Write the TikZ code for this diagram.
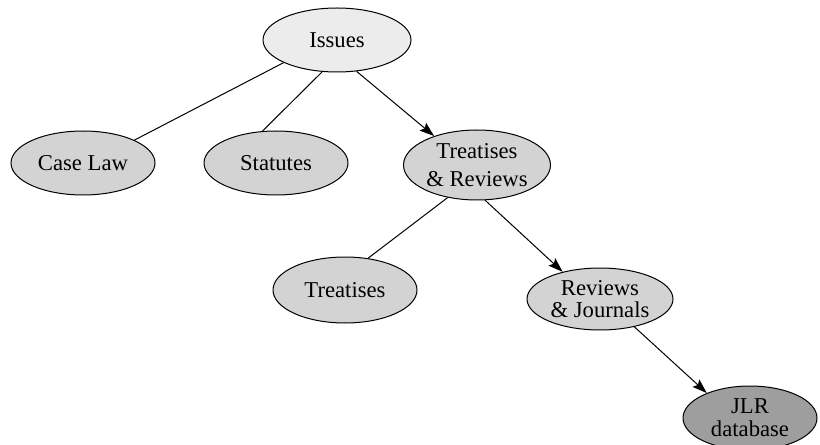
\documentclass[tikz,border=0pt]{standalone}
\usepackage{fontspec}
\setmainfont{Liberation Serif}
\usepackage{xcolor}
\usepackage{tikz}
\usetikzlibrary{shapes.geometric, arrows.meta}
\definecolor{toplevel}{RGB}{236, 236, 236}
\definecolor{midlevel}{RGB}{211, 211, 211}
\definecolor{dblevel}{RGB}{158, 158, 158}

\begin{document}
\begin{tikzpicture}[
    x=0.75pt, y=-0.75pt,
    topic/.style={ellipse, draw, line width=0.75pt, fill=midlevel, inner sep=0pt, align=center, font=\fontsize{17}{17}\selectfont, text=black},
    link/.style={line width=0.75pt},
    arrow/.style={line width=0.75pt, -{Stealth[length=11pt, width=7.5pt, inset=2pt]}}
]
\useasboundingbox (0,0) rectangle (820,445);
\node[topic, fill=toplevel, minimum width=148*0.75pt, minimum height=64*0.75pt] (issues) at (337,40) {Issues};
\node[topic, minimum width=144*0.75pt, minimum height=64*0.75pt] (caselaw) at (83,163) {Case Law};
\node[topic, minimum width=144*0.75pt, minimum height=64*0.75pt] (statutes) at (276,163) {Statutes};
\node[topic, minimum width=147*0.75pt, minimum height=70*0.75pt] (treatrev) at (477,165) {Treatises\\[4pt]\& Reviews};
\node[topic, minimum width=144*0.75pt, minimum height=66*0.75pt] (treatises) at (345,290) {Treatises};
\node[topic, minimum width=146*0.75pt, minimum height=62*0.75pt] (revjour) at (600,299) {Reviews\\\& Journals};
\node[topic, fill=dblevel, minimum width=134*0.75pt, minimum height=64*0.75pt] (jlr) at (750,418) {JLR\\database};

\draw[link] (issues.203) -- (caselaw.24);
\draw[link] (issues.245) -- (statutes.113);
\draw[arrow] (issues.302) -- (treatrev.146);
\draw[link] (treatrev.228) -- (treatises.54);
\draw[arrow] (treatrev.283) -- (revjour.144);
\draw[arrow] (revjour.321) -- (jlr.150);
\end{tikzpicture}
\end{document}
